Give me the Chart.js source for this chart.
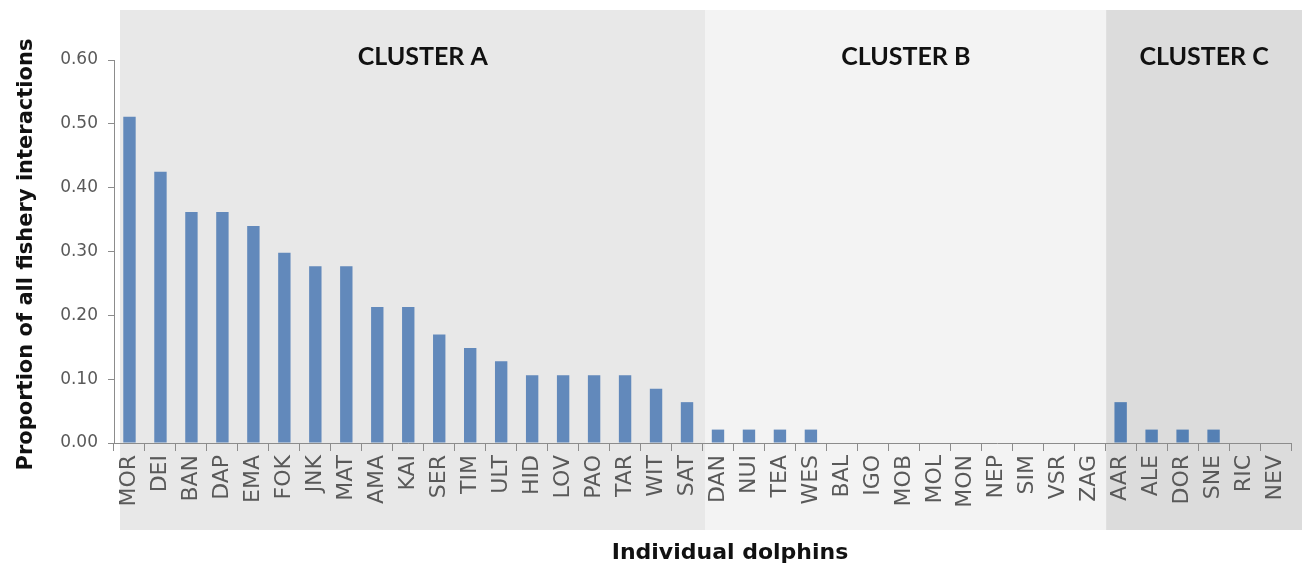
<!DOCTYPE html>
<html>
<head>
<meta charset="utf-8">
<script src="https://cdn.jsdelivr.net/npm/chart.js@4/dist/chart.umd.min.js"></script>
<style>
  html, body { margin: 0; padding: 0; background: #ffffff; }
  #wrap { width: 1302px; height: 569px; position: relative; }
</style>
</head>
<body>
<div id="wrap"><canvas id="c" width="1302" height="569"></canvas></div>
<script>
// ---- data ----
const dolphins = ['MOR','DEI','BAN','DAP','EMA','FOK','JNK','MAT','AMA','KAI','SER','TIM','ULT','HID','LOV','PAO','TAR','WIT','SAT',
                  'DAN','NUI','TEA','WES','BAL','IGO','MOB','MOL','MON','NEP','SIM','VSR','ZAG',
                  'AAR','ALE','DOR','SNE','RIC','NEV'];
const proportions = [0.511,0.425,0.362,0.362,0.340,0.298,0.277,0.277,0.213,0.213,0.170,0.149,0.128,0.106,0.106,0.106,0.106,0.085,0.064,
                     0.021,0.021,0.021,0.021,0,0,0,0,0,0,0,0,0,
                     0.064,0.021,0.021,0.021,0,0];
const clusterNames = ['CLUSTER A','CLUSTER B','CLUSTER C'];
const clusterSizes = [19, 13, 6];
const yTicks = [0, 0.1, 0.2, 0.3, 0.4, 0.5, 0.6];

// ---- styles ----
const clusterBg = ['#e8e8e8', '#f3f3f3', '#dcdcdc'];
const clusterBar = ['#6289bb', '#6289bb', '#5580b4'];
const barColors = [];
clusterSizes.forEach((n, ci) => { for (let i = 0; i < n; i++) barColors.push(clusterBar[ci]); });

const clusterPlugin = {
  id: 'clusters',
  beforeDraw(chart) {
    const ctx = chart.ctx;
    const x = chart.scales.x;
    const half = (x.getPixelForValue(1) - x.getPixelForValue(0)) / 2;
    let start = 0;
    const bounds = [];
    clusterSizes.forEach((n, ci) => {
      let left = x.getPixelForValue(start) - half;
      let right = x.getPixelForValue(start + n - 1) + half;
      if (ci === 0) left += 6;
      else left += [0, 3, 1][ci];
      if (ci === clusterSizes.length - 1) right = chart.width;
      else right += [3, 1, 0][ci];
      bounds.push([left, right]);
      start += n;
    });
    ctx.save();
    bounds.forEach((b, ci) => {
      ctx.fillStyle = clusterBg[ci];
      ctx.fillRect(b[0], 10, b[1] - b[0], 520);
    });
    ctx.fillStyle = '#111111';
    ctx.font = 'bold 25px Lato';
    ctx.textAlign = 'center';
    ctx.textBaseline = 'middle';
    const offs = [10, 0, 0];
    bounds.forEach((b, ci) => {
      ctx.fillText(clusterNames[ci], (b[0] + b[1]) / 2 + offs[ci], 57);
    });
    ctx.restore();
  },
  afterDraw(chart) {
    const ctx = chart.ctx;
    const area = chart.chartArea;
    ctx.save();
    ctx.fillStyle = '#111111';
    ctx.font = 'bold 22px "DejaVu Sans"';
    ctx.textAlign = 'center';
    ctx.textBaseline = 'middle';
    ctx.fillText('Individual dolphins', 730, 553);
    ctx.font = 'bold 21px "DejaVu Sans"';
    ctx.translate(27, (area.top + area.bottom) / 2 + 3);
    ctx.rotate(-Math.PI / 2);
    ctx.fillText('Proportion of all fishery interactions', 0, 0);
    ctx.restore();
  }
};

new Chart(document.getElementById('c'), {
  type: 'bar',
  data: {
    labels: dolphins,
    datasets: [{
      data: proportions,
      backgroundColor: barColors,
      borderWidth: 0,
      categoryPercentage: 1,
      barPercentage: 0.4
    }]
  },
  options: {
    responsive: false,
    animation: false,
    devicePixelRatio: 1,
    layout: { padding: { top: 60, right: 11, left: 0, bottom: 0 } },
    plugins: { legend: { display: false }, tooltip: { enabled: false } },
    scales: {
      x: {
        afterFit(s) { s.height = 126; s.paddingLeft = 0; s.paddingRight = 0; },
        grid: { drawOnChartArea: false, tickLength: 8, color: '#8c8c8c', offset: true },
        border: { color: '#8c8c8c', width: 1 },
        ticks: {
          minRotation: 90, maxRotation: 90, autoSkip: false,
          color: '#595959', padding: 4,
          font: { family: '"DejaVu Sans"', size: 22 }
        }
      },
      y: {
        min: 0, max: 0.6,
        afterFit(s) { s.width = 114; },
        afterBuildTicks(s) { s.ticks = yTicks.map(v => ({ value: v })); },
        grid: { drawOnChartArea: false, tickLength: 6, color: '#8c8c8c' },
        border: { color: '#8c8c8c', width: 1 },
        ticks: {
          color: '#595959', padding: 10,
          font: { family: '"DejaVu Sans"', size: 17 },
          callback: v => Number(v).toFixed(2)
        }
      }
    }
  },
  plugins: [clusterPlugin]
});
</script>
</body>
</html>
